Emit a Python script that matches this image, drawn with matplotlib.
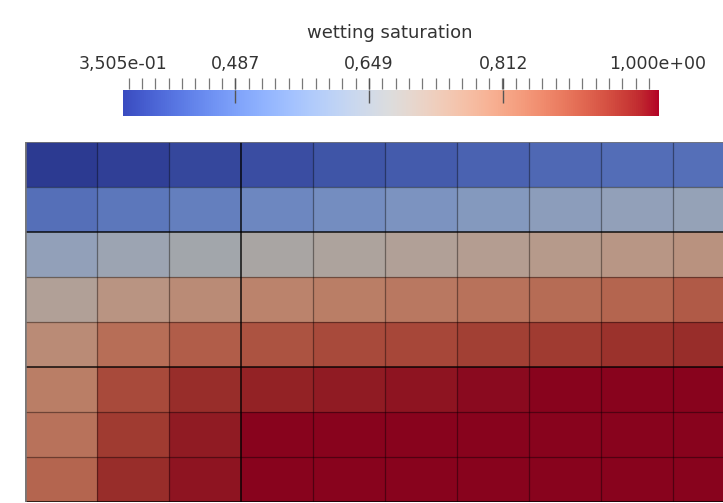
import numpy as np
import matplotlib
matplotlib.use("Agg")
import matplotlib.pyplot as plt
from matplotlib.colors import ListedColormap

# colour range of the scalar bar
vmin = 0.3505
vmax = 1.0
title = "wetting saturation"
tick_values = [0.3505, 0.487, 0.649, 0.812, 1.0]
tick_labels = ["3,505e-01", "0,487", "0,649", "0,812", "1,000e+00"]

# wetting saturation per cell (rows top -> bottom)
row0 = [0.351, 0.362, 0.378, 0.390, 0.405, 0.418, 0.432, 0.445, 0.455, 0.462]
row1 = [0.462, 0.478, 0.498, 0.518, 0.538, 0.558, 0.578, 0.598, 0.612, 0.620]
row2 = [0.612, 0.640, 0.662, 0.684, 0.698, 0.712, 0.725, 0.738, 0.751, 0.764]
row3 = [0.712, 0.758, 0.784, 0.803, 0.816, 0.829, 0.842, 0.855, 0.868, 0.888]
row4 = [0.784, 0.849, 0.881, 0.901, 0.914, 0.920, 0.933, 0.940, 0.953, 0.960]
row5 = [0.816, 0.914, 0.960, 0.973, 0.980, 0.986, 0.993, 1.000, 1.000, 1.000]
row6 = [0.842, 0.940, 0.980, 1.000, 1.000, 1.000, 1.000, 1.000, 1.000, 1.000]
row7 = [0.868, 0.960, 0.986, 1.000, 1.000, 1.000, 1.000, 1.000, 1.000, 1.000]

sat = np.array([row0, row1, row2, row3, row4, row5, row6, row7])
nrows, ncols = sat.shape

W, H = 723, 503
fig = plt.figure(figsize=(W / 100, H / 100), dpi=100)

# shaded version of coolwarm for the lit cells
base = plt.get_cmap("coolwarm")
shade = base(np.linspace(0, 1, 256))
shade[:, :3] *= 0.755
cell_cmap = ListedColormap(shade)

# ---- mesh ----
ax = fig.add_axes([25 / W, 1 / H, 698 / W, 360 / H])
ax.pcolormesh(np.arange(ncols + 1), np.arange(nrows + 1), sat,
              cmap=cell_cmap, vmin=vmin, vmax=vmax)
ax.set_xlim(0, 698 / 72)
ax.set_ylim(8, 0)
ax.axis("off")

thick_cols = [3]
thick_rows = [2, 5, 8]
for c in range(1, ncols):
    if c in thick_cols:
        ax.axvline(c, color="black", lw=1.1, alpha=0.9)
    else:
        ax.axvline(c, color="black", lw=0.9, alpha=0.4)
for r in range(1, nrows + 1):
    if r in thick_rows:
        ax.axhline(r, color="black", lw=1.1, alpha=0.9)
    else:
        ax.axhline(r, color="black", lw=0.9, alpha=0.4)
ax.axhline(0, color="#777777", lw=1.2)
ax.axvline(0, color="#777777", lw=1.8)

# ---- scalar bar ----
cax = fig.add_axes([123 / W, (H - 116) / H, 535 / W, 26 / H])
grad = np.linspace(vmin, vmax, 512).reshape(1, -1)
cax.imshow(grad, extent=[vmin, vmax, 0, 1], aspect="auto", cmap=base,
           vmin=vmin, vmax=vmax)
cax.set_xlim(vmin, vmax)
cax.set_ylim(0, 1)
cax.axis("off")

# minor ticks above the bar
step = (tick_values[2] - tick_values[1]) / 10
minor = tick_values[1] + step * np.arange(-8, 32)
minor = minor[(minor >= vmin) & (minor <= vmax)]
cax.vlines(minor, 1.03, 1.45, color="#777777", lw=0.9, clip_on=False)
# major ticks drawn into the bar
cax.vlines(tick_values[1:4], 0.5, 1.0, color="#555555", lw=1.0)
cax.vlines(tick_values[1:4], 1.03, 1.45, color="#555555", lw=1.0, clip_on=False)

for v, lab in zip(tick_values, tick_labels):
    fig.text(123 / W + (v - vmin) / (vmax - vmin) * 535 / W, 1 - 69 / H, lab,
             ha="center", va="baseline", fontsize=12.5, color="#333333")

fig.text(390 / W, 1 - 38 / H, title, ha="center", va="baseline",
         fontsize=13, color="#333333")

fig.savefig("out.png", dpi=100)
